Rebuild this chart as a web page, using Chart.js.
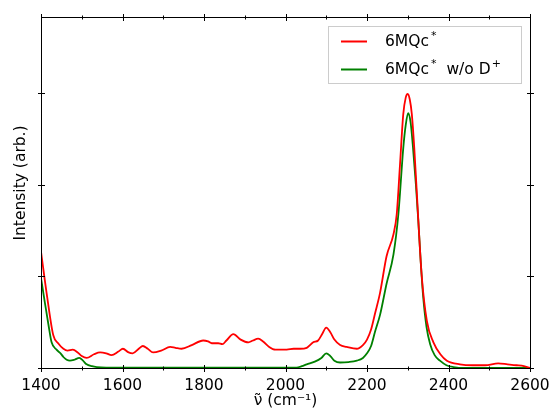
<!DOCTYPE html>
<html>
<head>
<meta charset="utf-8">
<script src="https://cdn.jsdelivr.net/npm/chart.js@4"></script>
<style>
  html, body { margin: 0; padding: 0; background: #fff; overflow: hidden; }
  canvas { display: block; }
</style>
</head>
<body>
<canvas id="spectrum" width="552" height="420"></canvas>
<script>
const redWave = [1400, 1415, 1430, 1442, 1455, 1465, 1478, 1490, 1500, 1512, 1530, 1545, 1560, 1573,
  1590, 1601, 1615, 1625, 1640, 1650, 1662, 1675, 1695, 1717, 1730, 1745, 1770, 1798, 1810, 1819,
  1835, 1845, 1855, 1872, 1890, 1909, 1920, 1933, 1945, 1960, 1975, 1990, 2003, 2020, 2036, 2052,
  2068, 2080, 2090, 2100, 2110, 2120, 2134, 2150, 2175, 2190, 2200, 2210, 2220, 2232, 2248, 2265,
  2273, 2281, 2289, 2295, 2300, 2305, 2310, 2316, 2322, 2334, 2347, 2363, 2380, 2396, 2428, 2460,
  2490, 2522, 2545, 2567, 2585, 2600];
const redIntensity = [1.27, 0.78, 0.36, 0.27, 0.21, 0.19, 0.20, 0.17, 0.13, 0.11, 0.15, 0.17, 0.16, 0.14,
  0.18, 0.21, 0.17, 0.16, 0.21, 0.24, 0.21, 0.17, 0.19, 0.23, 0.22, 0.21, 0.25, 0.30, 0.29, 0.27,
  0.27, 0.26, 0.30, 0.37, 0.31, 0.28, 0.30, 0.32, 0.29, 0.23, 0.20, 0.20, 0.20, 0.21, 0.21, 0.22,
  0.28, 0.30, 0.37, 0.44, 0.39, 0.31, 0.25, 0.23, 0.21, 0.25, 0.31, 0.42, 0.60, 0.82, 1.22, 1.46,
  1.68, 2.22, 2.77, 2.95, 2.99, 2.93, 2.77, 2.40, 1.93, 1.02, 0.51, 0.28, 0.15, 0.08, 0.04, 0.03,
  0.03, 0.05, 0.04, 0.03, 0.02, 0.0];

const greenWave = [1400, 1410, 1418, 1426, 1438, 1448, 1455, 1463, 1471, 1482, 1494, 1503, 1512, 1525,
  1537, 1560, 1700, 1900, 2000, 2027, 2040, 2052, 2072, 2088, 2100, 2110, 2120, 2134, 2155, 2175,
  2190, 2200, 2210, 2220, 2232, 2248, 2265, 2277, 2289, 2295, 2301, 2307, 2313, 2320, 2326, 2332,
  2338, 2346, 2355, 2366, 2379, 2395, 2412, 2440, 2600];
const greenIntensity = [0.98, 0.70, 0.48, 0.28, 0.20, 0.16, 0.12, 0.09, 0.08, 0.09, 0.11, 0.08, 0.04, 0.02,
  0.01, 0.005, 0.005, 0.005, 0.003, 0.005, 0.02, 0.04, 0.07, 0.11, 0.16, 0.13, 0.08, 0.06, 0.065, 0.08,
  0.11, 0.16, 0.24, 0.40, 0.58, 0.92, 1.24, 1.68, 2.40, 2.65, 2.78, 2.68, 2.40, 2.00, 1.60, 1.15,
  0.77, 0.45, 0.26, 0.14, 0.08, 0.03, 0.01, 0.0, 0.0];

const xTicks = [1400, 1600, 1800, 2000, 2200, 2400, 2600];
const xMinorTicks = [1500, 1700, 1900, 2100, 2300, 2500];
const yTicks = [0, 1, 2, 3];

const font = 'DejaVu Sans';
const red = '#ff0000';
const green = '#008000';

const toPoints = (xs, ys) => xs.map((x, i) => ({ x, y: ys[i] }));

// frame, in-out ticks, y label and the legend, matplotlib style
const decorations = {
  id: 'decorations',
  afterDraw(chart) {
    const { ctx, chartArea: a, scales: { x, y } } = chart;
    ctx.save();
    ctx.strokeStyle = '#000';
    ctx.lineWidth = 1;
    const L = Math.round(a.left) + 0.5, R = Math.round(a.right) + 0.5;
    const T = Math.round(a.top) + 0.5, B = Math.round(a.bottom) + 0.5;
    ctx.strokeRect(L, T, R - L, B - T);

    const tick = (x1, y1, x2, y2) => { ctx.beginPath(); ctx.moveTo(x1, y1); ctx.lineTo(x2, y2); ctx.stroke(); };
    xTicks.forEach(v => {
      const px = Math.round(x.getPixelForValue(v)) + 0.5;
      tick(px, B - 3.5, px, B + 3.5);
      tick(px, T - 3.5, px, T + 3.5);
    });
    xMinorTicks.forEach(v => {
      const px = Math.round(x.getPixelForValue(v)) + 0.5;
      tick(px, B - 2, px, B + 2);
      tick(px, T - 2, px, T + 2);
    });
    yTicks.forEach(v => {
      const py = Math.round(y.getPixelForValue(v)) + 0.5;
      tick(L - 3.5, py, L + 3.5, py);
      tick(R - 3.5, py, R + 3.5, py);
    });

    // y title
    ctx.fillStyle = '#000';
    ctx.font = `15.5px "${font}"`;
    ctx.textAlign = 'center';
    ctx.textBaseline = 'middle';
    ctx.save();
    ctx.translate(21, 183);
    ctx.rotate(-Math.PI / 2);
    ctx.fillText('Intensity (arb.)', 0, 0);
    ctx.restore();

    // legend
    ctx.strokeStyle = '#cccccc';
    ctx.lineWidth = 1;
    ctx.strokeRect(328.5, 26.5, 193, 57);
    const rows = [
      { color: red, y: 41.5, extra: '', sup2: '' },
      { color: green, y: 69.5, extra: ' w/o D', sup2: '+' }
    ];
    ctx.textAlign = 'left';
    rows.forEach(r => {
      ctx.strokeStyle = r.color;
      ctx.lineWidth = 2;
      tick(341, r.y, 367, r.y);
      ctx.font = `15.5px "${font}"`;
      ctx.fillText('6MQc', 385, r.y);
      let px = 385 + ctx.measureText('6MQc').width + 2;
      ctx.font = `11px "${font}"`;
      ctx.fillText('*', px, r.y - 5);
      px += ctx.measureText('*').width + 5;
      if (r.extra) {
        ctx.font = `15.5px "${font}"`;
        ctx.fillText(r.extra, px, r.y);
        px += ctx.measureText(r.extra).width + 1;
        ctx.font = `11px "${font}"`;
        ctx.fillText(r.sup2, px, r.y - 5);
      }
    });
    ctx.restore();
  }
};

new Chart(document.getElementById('spectrum').getContext('2d'), {
  type: 'line',
  data: {
    datasets: [
      {
        label: '6MQc*',
        data: toPoints(redWave, redIntensity),
        borderColor: red,
        borderWidth: 1.8,
        pointRadius: 0,
        tension: 0.4,
        cubicInterpolationMode: 'monotone',
        fill: false
      },
      {
        label: '6MQc* w/o D+',
        data: toPoints(greenWave, greenIntensity),
        borderColor: green,
        borderWidth: 1.8,
        pointRadius: 0,
        tension: 0.4,
        cubicInterpolationMode: 'monotone',
        fill: false
      }
    ]
  },
  options: {
    responsive: false,
    animation: false,
    layout: { padding: { top: 17, right: 22, left: 0, bottom: 0 } },
    scales: {
      x: {
        type: 'linear',
        min: 1400,
        max: 2600,
        grid: { display: false, drawTicks: false },
        border: { display: false },
        ticks: {
          stepSize: 200,
          padding: 9,
          color: '#000',
          font: { family: font, size: 15.5 },
          maxRotation: 0,
          callback: v => String(v)
        },
        title: {
          display: true,
          text: 'ν̃ (cm⁻¹)',
          color: '#000',
          font: { family: font, size: 15.5 },
          padding: { top: 0, bottom: 10 }
        },
        afterFit: s => { s.height = 52; s.paddingLeft = 0; s.paddingRight = 0; }
      },
      y: {
        min: 0,
        max: 3.83,
        grid: { display: false, drawTicks: false },
        border: { display: false },
        ticks: { display: false, stepSize: 1 },
        afterFit: s => { s.width = 41; s.paddingTop = 0; s.paddingBottom = 0; }
      }
    },
    plugins: {
      legend: { display: false },
      tooltip: { enabled: false }
    }
  },
  plugins: [decorations]
});
</script>
</body>
</html>
